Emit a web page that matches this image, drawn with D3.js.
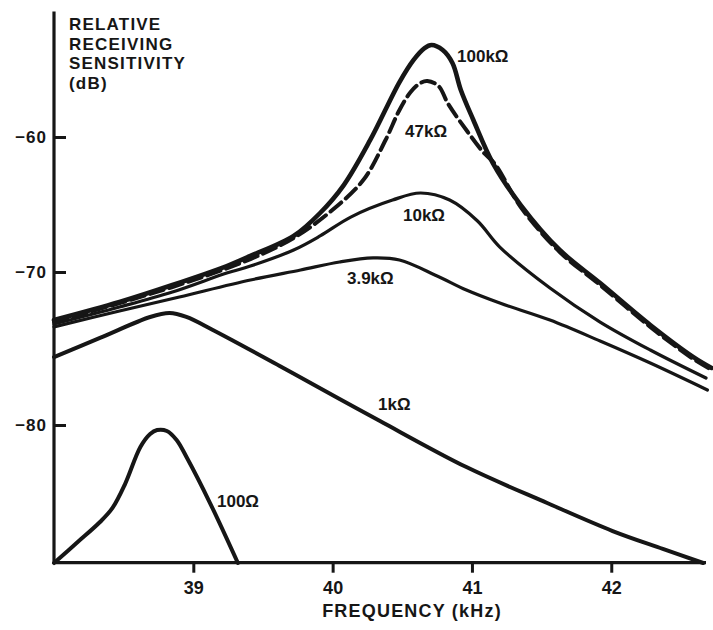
<!DOCTYPE html>
<html><head><meta charset="utf-8">
<script src="https://cdn.jsdelivr.net/npm/d3@7"></script>
<style>
html,body{margin:0;padding:0;background:#fff;}
svg text{font-family:"Liberation Sans",Arial,Helvetica,sans-serif;font-weight:bold;fill:#161616;}
</style></head><body>
<svg id="chart" width="713" height="630"></svg>
<script>
// ---- data ----
const xTicks = [39, 40, 41, 42];
const yTicks = [-60, -70, -80];
const xDomain = [38, 42.68];
const yDomain = [-89.0, -50.7];
const yTitle = ["RELATIVE", "RECEIVING", "SENSITIVITY", "(dB)"];
const xTitle = "FREQUENCY (kHz)";

const freq100k = [38.00, 38.47, 38.85, 39.24, 39.41, 39.72, 39.91, 40.08, 40.27, 40.48, 40.58, 40.66, 40.71, 40.79, 40.86, 40.92, 41.01, 41.15, 41.35, 41.63, 41.92, 42.28, 42.59, 42.72];
const db100k   = [-73.14, -71.96, -70.85, -69.56, -68.81, -67.33, -65.63, -63.56, -60.22, -55.93, -54.30, -53.41, -53.19, -53.56, -54.52, -56.52, -58.74, -61.93, -65.04, -68.37, -70.72, -73.46, -75.56, -76.27];

const freq47k = [38.00, 38.85, 39.41, 39.72, 39.98, 40.22, 40.38, 40.48, 40.56, 40.63, 40.68, 40.76, 40.83, 40.97, 41.08, 41.17, 41.35, 41.63, 41.92, 42.28, 42.59, 42.71];
const db47k   = [-73.27, -70.98, -69.04, -67.48, -65.56, -63.19, -60.22, -58.00, -56.67, -56.00, -55.85, -56.22, -57.56, -59.63, -61.11, -62.07, -65.19, -68.52, -70.85, -73.59, -75.69, -76.34];

const freq10k = [38.00, 38.47, 38.85, 39.24, 39.41, 39.72, 39.91, 40.13, 40.43, 40.63, 40.84, 41.04, 41.20, 41.56, 41.92, 42.28, 42.68];
const db10k   = [-73.40, -72.29, -71.31, -70.07, -69.56, -68.37, -67.33, -65.93, -64.67, -64.15, -64.67, -66.22, -68.15, -71.05, -73.27, -75.10, -76.93];

const freq3k9 = [38.00, 38.47, 38.90, 39.41, 39.77, 40.05, 40.29, 40.48, 40.75, 40.96, 41.20, 41.56, 41.92, 42.28, 42.69];
const db3k9   = [-73.59, -72.55, -71.63, -70.52, -69.85, -69.26, -68.96, -69.11, -70.26, -71.18, -72.03, -73.14, -74.51, -75.95, -77.71];

const freq1k = [38.00, 38.33, 38.69, 38.83, 38.95, 39.14, 39.62, 40.05, 40.34, 40.96, 41.54, 42.01, 42.37, 42.66];
const db1k   = [-75.56, -74.31, -72.94, -72.68, -72.94, -73.79, -76.14, -78.30, -79.74, -82.75, -85.10, -86.93, -88.10, -89.02];

const freq100 = [38.00, 38.17, 38.33, 38.42, 38.51, 38.62, 38.69, 38.74, 38.81, 38.88, 38.955, 39.12, 39.32];
const db100   = [-89.02, -87.65, -86.34, -85.42, -83.86, -81.44, -80.59, -80.33, -80.39, -80.98, -82.16, -85.10, -89.02];

const seriesNames = ["100kΩ", "47kΩ", "10kΩ", "3.9kΩ", "1kΩ", "100Ω"];
const labelFreq = [40.893, 40.52, 40.505, 40.103, 40.326, 39.17];
const labelDb   = [-54.44, -60.0, -66.22, -70.78, -79.02, -85.36];

// ---- chart ----
const svg = d3.select("#chart");
const x = d3.scaleLinear().domain(xDomain).range([54, 706]);
const y = d3.scaleLinear().domain([-80, -70, -60]).range([425, 272, 137]);
const ink = "#161616";

const line = d3.line().x(d => x(d[0])).y(d => y(d[1])).curve(d3.curveCatmullRom.alpha(0.5));
const zip = (f, v) => f.map((d, i) => [d, v[i]]);

const series = [
  {f: freq3k9, v: db3k9, w: 3.2},
  {f: freq10k, v: db10k, w: 3.2},
  {f: freq1k, v: db1k, w: 4},
  {f: freq100, v: db100, w: 4},
  {f: freq47k, v: db47k, w: 4, dash: "14,6"},
  {f: freq100k, v: db100k, w: 4.6}
];
series.forEach(s => {
  svg.append("path").datum(zip(s.f, s.v))
    .attr("d", line).attr("fill", "none").attr("stroke", ink)
    .attr("stroke-width", s.w).attr("stroke-linecap", "round")
    .attr("stroke-dasharray", s.dash || null);
});

// axes lines
svg.append("line").attr("x1", x(xDomain[0])).attr("x2", x(xDomain[0]))
  .attr("y1", y(yDomain[0])).attr("y2", y(yDomain[1]))
  .attr("stroke", ink).attr("stroke-width", 3.2);
svg.append("line").attr("x1", x(xDomain[0])).attr("x2", x(xDomain[1]))
  .attr("y1", y(yDomain[0])).attr("y2", y(yDomain[0]))
  .attr("stroke", ink).attr("stroke-width", 3.2);

const xAxis = svg.append("g").attr("transform", `translate(0,${y(yDomain[0])})`)
  .call(d3.axisBottom(x).tickValues(xTicks).tickSize(10).tickPadding(9).tickFormat(d3.format("d")));
xAxis.select(".domain").remove();
xAxis.selectAll("line").attr("stroke", ink).attr("stroke-width", 3);
xAxis.selectAll("text").style("font-size", "18px").style("font-family", null).attr("fill", ink);

const yAxis = svg.append("g").attr("transform", `translate(${x(xDomain[0])},0)`)
  .call(d3.axisLeft(y).tickValues(yTicks).tickSize(-12).tickPadding(7).tickFormat(d3.format("d")));
yAxis.select(".domain").remove();
yAxis.selectAll("line").attr("stroke", ink).attr("stroke-width", 3);
yAxis.selectAll("text").style("font-size", "17px").style("letter-spacing", "1px").attr("fill", ink);

// y title
svg.append("g").selectAll("text").data(yTitle).join("text")
  .attr("x", 69).attr("y", (d, i) => 30 + i * 19.5)
  .style("font-size", "17px").style("letter-spacing", "1.2px").text(d => d);

// x title
svg.append("text").attr("x", 412).attr("y", 617).attr("text-anchor", "middle")
  .style("font-size", "18px").style("letter-spacing", "1.2px").text(xTitle);

// curve labels
svg.append("g").selectAll("text").data(seriesNames).join("text")
  .attr("x", (d, i) => x(labelFreq[i])).attr("y", (d, i) => y(labelDb[i]))
  .style("font-size", "17px").text(d => d);
</script>
</body></html>
